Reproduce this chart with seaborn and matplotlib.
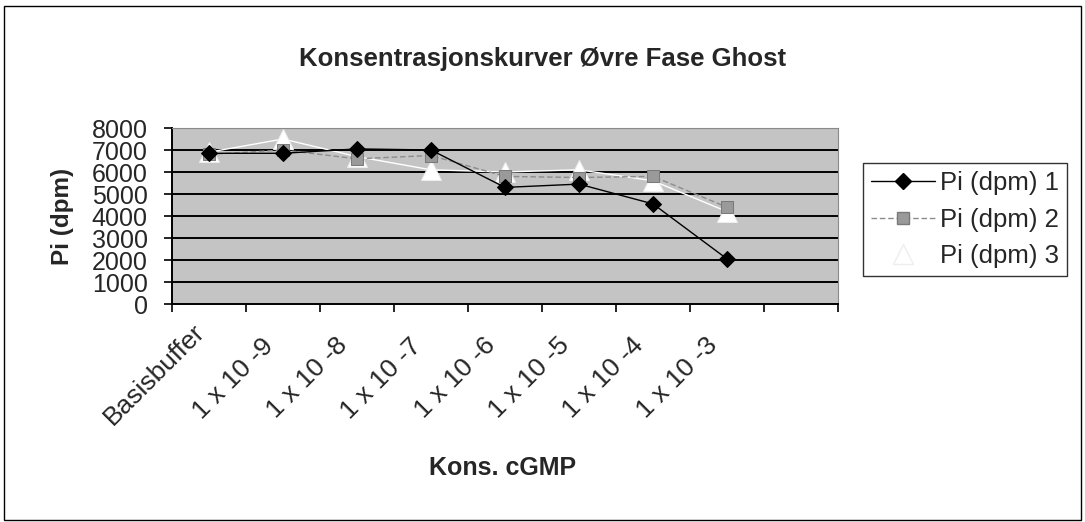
import numpy as np
import pandas as pd
import matplotlib
matplotlib.use("Agg")
import matplotlib.pyplot as plt
import matplotlib.transforms as mtransforms
import seaborn as sns
from matplotlib.lines import Line2D
from matplotlib.patches import Rectangle

categories = ["Basisbuffer", "1 x 10 -9", "1 x 10 -8", "1 x 10 -7",
              "1 x 10 -6", "1 x 10 -5", "1 x 10 -4", "1 x 10 -3"]
series1 = [6850, 6850, 7050, 7000, 5300, 5450, 4550, 2050]
series2 = [6800, 7000, 6600, 6750, 5800, 5750, 5800, 4400]
series3 = [6900, 7500, 6700, 6100, 6000, 6100, 5600, 4200]
series_names = ["Pi (dpm) 1", "Pi (dpm) 2", "Pi (dpm) 3"]
yticks = [0, 1000, 2000, 3000, 4000, 5000, 6000, 7000, 8000]

sns.set_style("white")
plt.rcParams['font.family'] = ['Liberation Sans', 'DejaVu Sans']

W, H = 1085, 522
fig = plt.figure(figsize=(W / 100, H / 100), dpi=100)
L, R, T, B = 172, 838, 128, 304
ax = fig.add_axes([L / W, 1 - B / H, (R - L) / W, (B - T) / H])
ax.set_facecolor('#c4c4c4')

df = pd.DataFrame({
    "cat": categories * 3,
    "val": series1 + series2 + series3,
    "series": np.repeat(series_names, len(categories)),
})

styles = {
    series_names[0]: dict(color='black', marker='D', markersize=8, lw=1.0,
                          mec='black', mfc='black', zorder=5),
    series_names[1]: dict(color='#8c8c8c', marker='s', markersize=9, lw=1.0,
                          mec='#7a7a7a', mfc='#9a9a9a', zorder=4, dashes=(4, 2)),
    series_names[2]: dict(color='white', marker='^', markersize=14, lw=1.0,
                          mec='#eeeeee', mfc='white', zorder=3),
}
for name in series_names:
    sub = df[df["series"] == name]
    st = dict(styles[name])
    dashes = st.pop("dashes", None)
    sns.lineplot(data=sub, x="cat", y="val", ax=ax, sort=False, legend=False,
                 **st)
    if dashes is not None:
        ax.lines[-1].set_dashes(dashes)

ax.set_xlim(-0.5, 8.5)
ax.set_ylim(0, 8000)
ax.set_yticks(yticks)
ax.set_yticklabels([str(v) for v in yticks], fontsize=18)
for v in yticks[1:-1]:
    ax.axhline(v, color='black', lw=1.4, zorder=1)
ax.axhline(8000, color='#7a7a7a', lw=0.8, zorder=1)

ax.set_xticks(range(len(categories)))
ax.set_xticklabels(categories, rotation=45, ha='right', va='top',
                   rotation_mode='anchor', fontsize=19)
ax.tick_params(axis='x', which='major', length=0, pad=14)
ax.set_xticks(np.arange(-0.5, 9.0, 1.0), minor=True)
ax.tick_params(axis='x', which='minor', length=6, width=1.2, color='black',
               direction='out', bottom=True)
ax.tick_params(axis='y', length=6, width=1.2, color='black', direction='out',
               left=True, pad=11.5)

# shift rotated category labels (pixels: right, down)
for i, lab in enumerate(ax.get_xticklabels()):
    dx, dy = (-16, -4) if i == 0 else (-22, 10)
    off = mtransforms.ScaledTranslation(dx / 100, -dy / 100, fig.dpi_scale_trans)
    lab.set_transform(lab.get_transform() + off)

for s in ['left', 'bottom']:
    ax.spines[s].set_color('black')
    ax.spines[s].set_linewidth(1.4)
for s in ['top', 'right']:
    ax.spines[s].set_color('#8a8a8a')
    ax.spines[s].set_linewidth(0.8)

ax.set_xlabel("")
ax.set_ylabel("")
fig.text(62 / W, 1 - 216 / H, "Pi (dpm)", rotation=90, ha='center',
         va='center', fontsize=17.5, fontweight='bold')
fig.text(503 / W, 1 - 468 / H, "Kons. cGMP", ha='center', va='center',
         fontsize=18, fontweight='bold')
fig.text(543 / W, 1 - 59 / H, "Konsentrasjonskurver Øvre Fase Ghost",
         ha='center', va='center', fontsize=18.5, fontweight='bold')

handles = []
for name in series_names:
    st = dict(styles[name])
    dashes = st.pop("dashes", None)
    st.pop("zorder", None)
    h = Line2D([0], [0], **st)
    if dashes is not None:
        h.set_dashes(dashes)
    handles.append(h)
leg = fig.legend(handles, series_names, loc='upper left',
                 bbox_to_anchor=(863 / W, 1 - 163 / H), fontsize=18.5,
                 frameon=True, fancybox=False, edgecolor='black',
                 handlelength=2.5, handletextpad=0.2, borderpad=0.3,
                 labelspacing=0.5, borderaxespad=0)
leg.get_frame().set_linewidth(1.0)

fig.patches.append(Rectangle((4 / W, 2 / H), (W - 8) / W, (H - 8) / H,
                             transform=fig.transFigure, fill=False,
                             edgecolor='black', lw=1.0))

fig.savefig("out.png", dpi=100, facecolor='white')
